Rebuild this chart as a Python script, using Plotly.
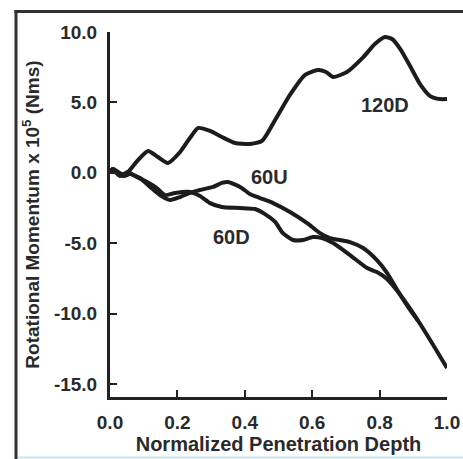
import plotly.graph_objects as go

# ---- data ----
depth_120D = [0.0, 0.009, 0.024, 0.042, 0.059, 0.083, 0.113, 0.142, 0.172, 0.208, 0.237, 0.261,
              0.297, 0.332, 0.371, 0.415, 0.451, 0.49, 0.534, 0.579, 0.617, 0.641, 0.662, 0.703,
              0.751, 0.786, 0.816, 0.837, 0.861, 0.89, 0.92, 0.95, 0.979, 1.0]
mom_120D = [0.13, 0.27, 0.06, -0.16, 0.2, 0.9, 1.55, 1.12, 0.7, 1.48, 2.47, 3.18,
            2.97, 2.54, 2.12, 2.05, 2.26, 3.75, 5.53, 6.95, 7.3, 7.16, 6.8, 7.16,
            8.2, 9.15, 9.65, 9.5, 8.8, 7.6, 6.3, 5.45, 5.24, 5.24]

depth_60U = [0.0, 0.009, 0.024, 0.042, 0.059, 0.089, 0.119, 0.148, 0.178, 0.208, 0.237, 0.267,
             0.306, 0.332, 0.35, 0.386, 0.415, 0.445, 0.484, 0.534, 0.585, 0.623, 0.653, 0.712,
             0.751, 0.792, 0.822, 0.852, 0.89, 0.914]
mom_60U = [0.13, 0.27, -0.01, -0.23, -0.09, -0.37, -1.0, -1.58, -1.93, -1.72, -1.43, -1.22,
           -1.0, -0.72, -0.65, -1.0, -1.5, -1.79, -2.15, -2.78, -3.57, -4.28, -4.63, -4.92,
           -5.34, -6.2, -7.1, -8.3, -9.72, -10.5]

depth_60D = [0.0, 0.009, 0.03, 0.053, 0.074, 0.11, 0.139, 0.163, 0.193, 0.237, 0.267, 0.297,
             0.332, 0.386, 0.43, 0.46, 0.49, 0.513, 0.543, 0.573, 0.602, 0.629, 0.662, 0.712,
             0.763, 0.792, 0.822, 0.852, 0.899, 0.95, 1.0]
mom_60D = [0.13, 0.2, -0.23, 0.06, -0.23, -0.65, -1.08, -1.58, -1.43, -1.36, -1.65, -2.15,
           -2.43, -2.5, -2.57, -2.93, -3.49, -4.28, -4.77, -4.77, -4.56, -4.63, -4.99, -5.84,
           -6.76, -7.05, -7.54, -8.38, -9.95, -11.87, -13.86]

series_labels = ["120D", "60U", "60D"]
label_x = [0.816, 0.472, 0.362]
label_y = [4.85, -0.33, -4.56]

x_tickvals = [0.0, 0.2, 0.4, 0.6, 0.8, 1.0]
x_ticktext = ["0.0", "0.2", "0.4", "0.6", "0.8", "1.0"]
y_tickvals = [10, 5, 0, -5, -10, -15]
y_ticktext = ["10.0", "5.0", "0.0", "-5.0", "-10.0", "-15.0"]

LINE = "#1c1c1c"
TEXT = "#2a2a2a"
FONT = "Liberation Sans, Arial, Helvetica, sans-serif"

# figure and plot-area geometry in pixels
FW, FH = 463, 459
L, R, T, B = 110, 447, 32, 397

fig = go.Figure()
for xs, ys in [(depth_120D, mom_120D), (depth_60U, mom_60U), (depth_60D, mom_60D)]:
    fig.add_trace(go.Scatter(x=xs, y=ys, mode="lines",
                             line=dict(color=LINE, width=4, shape="spline", smoothing=0.6),
                             showlegend=False, hoverinfo="skip"))

for t, xx, yy in zip(series_labels, label_x, label_y):
    fig.add_annotation(x=xx, y=yy, text=t, showarrow=False,
                       font=dict(family=FONT, size=20, color=TEXT, weight="bold"))

axis_common = dict(showline=True, linecolor="#222", linewidth=3, ticks="inside",
                   tickcolor="#222", tickwidth=2, ticklen=7, showgrid=False, zeroline=False,
                   mirror=False, tickmode="array", automargin=False,
                   tickfont=dict(family=FONT, size=19, color=TEXT, weight="bold"))

fig.update_layout(
    width=FW, height=FH,
    margin=dict(l=0, r=0, t=0, b=0),
    paper_bgcolor="white", plot_bgcolor="white",
    xaxis=dict(range=[0, 1], domain=[L / FW, R / FW],
               tickvals=x_tickvals, ticktext=x_ticktext,
               ticklabelstandoff=6,
               title=dict(text="Normalized Penetration Depth", standoff=6,
                          font=dict(family=FONT, size=20, color=TEXT, weight="bold")),
               **axis_common),
    yaxis=dict(range=[-15.92, 10], domain=[(FH - B) / FH, (FH - T) / FH],
               tickvals=y_tickvals, ticktext=y_ticktext,
               ticklabelstandoff=6,
               title=dict(text="Rotational Momentum x 10<sup>5</sup> (Nms)", standoff=10,
                          font=dict(family=FONT, size=19, color=TEXT, weight="bold")),
               **axis_common),
)

# scanned figure frame (left and top border) and bottom tint line, in page fractions
fig.add_shape(type="rect", xref="paper", yref="paper", layer="above",
              x0=14.5 / FW, x1=17.5 / FW, y0=0.0, y1=(FH - 10) / FH,
              fillcolor="#303030", line=dict(width=0))
fig.add_shape(type="rect", xref="paper", yref="paper", layer="above",
              x0=14.5 / FW, x1=1.0, y0=(FH - 13) / FH, y1=(FH - 10) / FH,
              fillcolor="#303030", line=dict(width=0))
fig.add_shape(type="line", xref="paper", yref="paper",
              x0=18 / FW, x1=1.0, y0=1.5 / FH, y1=1.5 / FH,
              line=dict(color="#c4e6ee", width=2))

fig.write_html("out.html")
